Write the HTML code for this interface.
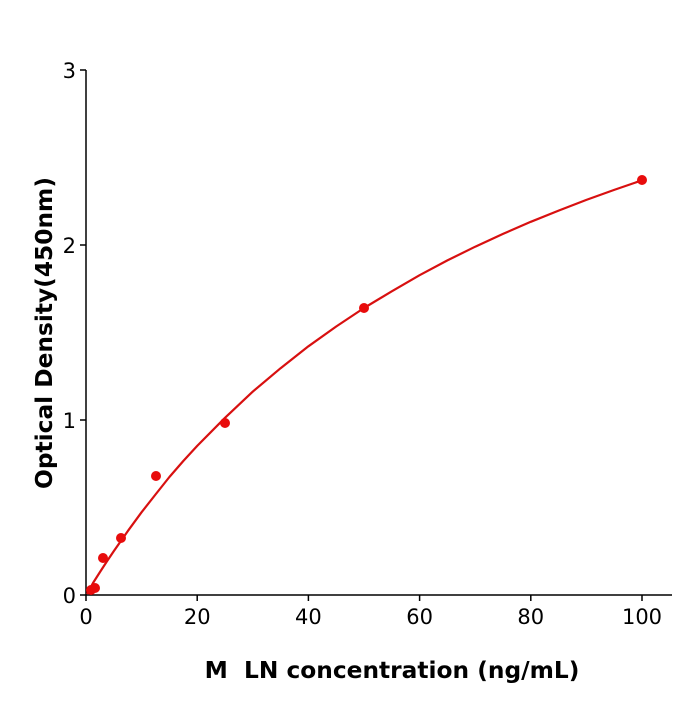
<!DOCTYPE html>
<html><head><style>body{margin:0;background:#fff}</style></head><body>
<svg width="700" height="700" xmlns="http://www.w3.org/2000/svg" font-family="DejaVu Sans, sans-serif">
<rect width="700" height="700" fill="#fff"/>
<g stroke="#000" stroke-width="1.5" fill="none">
<line x1="86" y1="595" x2="672" y2="595"/>
<line x1="86" y1="595" x2="86" y2="70"/>
<line x1="86" y1="595" x2="86" y2="601"/>
<line x1="197.2" y1="595" x2="197.2" y2="601"/>
<line x1="308.4" y1="595" x2="308.4" y2="601"/>
<line x1="419.6" y1="595" x2="419.6" y2="601"/>
<line x1="530.8" y1="595" x2="530.8" y2="601"/>
<line x1="642" y1="595" x2="642" y2="601"/>
<line x1="80" y1="595" x2="86" y2="595"/>
<line x1="80" y1="420" x2="86" y2="420"/>
<line x1="80" y1="245" x2="86" y2="245"/>
<line x1="80" y1="70" x2="86" y2="70"/>
</g>
<g font-size="21" fill="#000" text-anchor="middle">
<text x="86" y="624">0</text><text x="197.2" y="624">20</text><text x="308.4" y="624">40</text>
<text x="419.6" y="624">60</text><text x="530.8" y="624">80</text><text x="642" y="624">100</text>
</g>
<g font-size="21" fill="#000" text-anchor="end">
<text x="76" y="603">0</text><text x="76" y="428">1</text><text x="76" y="253">2</text><text x="76" y="78">3</text>
</g>
<text x="392" y="678" font-size="23.3" font-weight="bold" text-anchor="middle" xml:space="preserve">M  LN concentration (ng/mL)</text>
<text transform="translate(52,333) rotate(-90)" font-size="23.3" font-weight="bold" text-anchor="middle">Optical Density(450nm)</text>
<path d="M87,594 L93,583 L100,572 L106.9,561.4 L113.8,551.1 L127.7,531.2 L141.6,512.2 L155.5,494.5 L169.4,477 L183.3,461 L197.2,445.9 L225,417.8 L252.8,391.6 L280.6,368.2 L308.4,346.3 L336.2,326.5 L364,308 L391.8,291.3 L419.6,275.2 L447.4,260.4 L475.2,246.7 L503,233.9 L530.8,221.8 L558.6,210.6 L586.4,199.9 L614.2,189.9 L642,180.3" fill="none" stroke="#d81010" stroke-width="2.2" stroke-linejoin="round"/>
<g fill="#e80c0c">
<circle cx="91" cy="590" r="5"/><circle cx="95" cy="588" r="5"/><circle cx="103" cy="558" r="5"/>
<circle cx="121" cy="538" r="5"/><circle cx="156" cy="476" r="5"/><circle cx="225" cy="423" r="5"/>
<circle cx="364" cy="308" r="5"/><circle cx="642" cy="180" r="5"/>
</g>
</svg>
</body></html>
